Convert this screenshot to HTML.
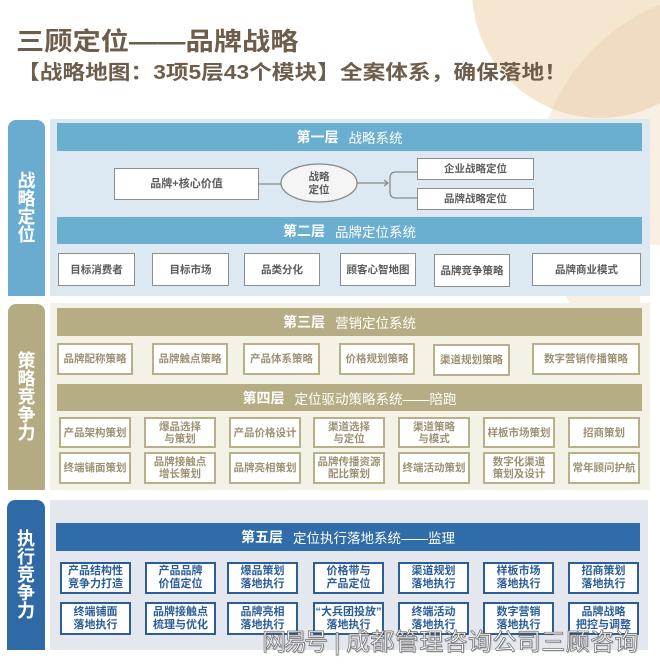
<!DOCTYPE html>
<html><head><meta charset="utf-8">
<style>
*{margin:0;padding:0;box-sizing:border-box}
body{width:660px;height:669px;overflow:hidden;background:#fff;position:relative;font-family:"Liberation Sans","Noto Sans CJK SC",sans-serif}
.a{position:absolute}
.lab{position:absolute;color:#fff;font-weight:bold;font-size:18px;line-height:18px;display:flex;align-items:center;justify-content:center;text-align:center;border-radius:8px 8px 0 0}
.hd{position:absolute;color:#fff;font-size:13.5px;display:flex;align-items:center;justify-content:center;white-space:nowrap}
.hd b{font-size:14px;margin-right:10px}
.bx{position:absolute;background:#fff;display:flex;align-items:center;justify-content:center;text-align:center;font-size:10.5px;line-height:12px;font-weight:bold;white-space:nowrap}
.g{border:1.5px solid #8d8d8d;color:#5c5c5c}
.k{border:2px solid #b9b08a;color:#9d9172}
.d{border:2px solid #2c5e95;color:#2a5d98;font-size:11px;line-height:13px}
.wm{position:absolute;color:#fff;font-size:24px;line-height:24px;white-space:nowrap;-webkit-text-stroke:0.7px #6a6a6a;text-shadow:1px 1px 1px rgba(0,0,0,.25)}
</style></head><body>

<svg class="a" style="left:0;top:0" width="660" height="669">
  <defs>
    <clipPath id="ca"><circle cx="600" cy="-10" r="128"/></clipPath>
  </defs>
  <circle cx="735" cy="190" r="200" fill="#f8eee2"/>
  <rect x="640" y="245" width="20" height="424" fill="#fff"/>
  <circle cx="600" cy="-10" r="128" fill="#f5e6d0"/>
  <circle cx="735" cy="190" r="200" fill="#f0dcc2" clip-path="url(#ca)"/>
</svg>

<div class="a" style="left:16px;top:30px;font-size:25px;line-height:25px;font-weight:bold;color:#6d5d4a;transform:scaleX(1.13);transform-origin:left top;white-space:nowrap">三顾定位——品牌战略</div>
<div class="a" style="left:17px;top:63px;font-size:20px;line-height:20px;font-weight:bold;color:#6d5d4a;transform:scaleX(1.135);transform-origin:left top;white-space:nowrap">【战略地图：3项5层43个模块】全案体系，确保落地！</div>

<!-- Section 1 -->
<div class="lab" style="left:8px;top:120px;width:37px;height:176px;background:#6aaccf">战<br>略<br>定<br>位</div>
<div class="a" style="left:50px;top:119px;width:600px;height:177px;background:#dce9f2"></div>
<div class="hd" style="left:57px;top:123px;width:585px;height:28px;background:#6aaed0"><b>第一层</b>战略系统</div>

<svg class="a" style="left:0;top:0" width="660" height="300">
  <line x1="259" y1="184" x2="281" y2="184" stroke="#8a8a8a" stroke-width="1.3"/>
  <ellipse cx="319" cy="183" rx="38" ry="19" fill="#f5f5f5" stroke="#8a8a8a" stroke-width="1.3"/>
  <line x1="357" y1="183" x2="388" y2="183" stroke="#8a8a8a" stroke-width="1.3"/>
  <polyline points="384,180 388,183 384,186" fill="none" stroke="#8a8a8a" stroke-width="1.2"/>
  <path d="M417,172 H396 Q390,172 390,178 V192 Q390,198 396,198 H417" fill="none" stroke="#8a8a8a" stroke-width="1.3"/>
  <text x="319" y="180" text-anchor="middle" font-size="10.5" font-weight="bold" fill="#5c5c5c" font-family="Liberation Sans, Noto Sans CJK SC, sans-serif">战略</text>
  <text x="319" y="193" text-anchor="middle" font-size="10.5" font-weight="bold" fill="#5c5c5c" font-family="Liberation Sans, Noto Sans CJK SC, sans-serif">定位</text>
</svg>

<div class="bx g" style="left:114px;top:168px;width:145px;height:32px;font-size:11px">品牌+核心价值</div>
<div class="bx g" style="left:417px;top:158px;width:117px;height:22px">企业战略定位</div>
<div class="bx g" style="left:417px;top:188px;width:117px;height:22px">品牌战略定位</div>

<div class="hd" style="left:57px;top:217px;width:585px;height:27px;background:#6aaed0"><b>第二层</b>品牌定位系统</div>
<div class="bx g" style="left:58px;top:253px;width:77px;height:33px">目标消费者</div>
<div class="bx g" style="left:152px;top:253px;width:77px;height:33px">目标市场</div>
<div class="bx g" style="left:244px;top:253px;width:76px;height:33px">品类分化</div>
<div class="bx g" style="left:340px;top:253px;width:76px;height:33px">顾客心智地图</div>
<div class="bx g" style="left:434px;top:254px;width:76px;height:33px">品牌竞争策略</div>
<div class="bx g" style="left:532px;top:253px;width:109px;height:33px">品牌商业模式</div>

<!-- Section 2 -->
<div class="lab" style="left:8px;top:304px;width:37px;height:186px;background:#b4ab82">策<br>略<br>竞<br>争<br>力</div>
<div class="a" style="left:50px;top:303px;width:600px;height:187px;background:#f4f2e6"></div>
<div class="hd" style="left:57px;top:308px;width:585px;height:28px;background:#b6ad84"><b>第三层</b>营销定位系统</div>
<div class="bx k" style="left:57px;top:343px;width:76px;height:32px">品牌配称策略</div>
<div class="bx k" style="left:152px;top:343px;width:76px;height:32px">品牌触点策略</div>
<div class="bx k" style="left:243px;top:343px;width:77px;height:32px">产品体系策略</div>
<div class="bx k" style="left:339px;top:343px;width:76px;height:32px">价格规划策略</div>
<div class="bx k" style="left:433px;top:344px;width:77px;height:32px">渠道规划策略</div>
<div class="bx k" style="left:532px;top:343px;width:108px;height:32px">数字营销传播策略</div>

<div class="hd" style="left:57px;top:384px;width:585px;height:27px;background:#b6ad84"><b>第四层</b>定位驱动策略系统——陪跑</div>
<div class="bx k" style="left:59px;top:417px;width:72px;height:31px">产品架构策划</div>
<div class="bx k" style="left:144px;top:417px;width:72px;height:31px">爆品选择<br>与策划</div>
<div class="bx k" style="left:229px;top:417px;width:72px;height:31px">产品价格设计</div>
<div class="bx k" style="left:313px;top:417px;width:72px;height:31px">渠道选择<br>与定位</div>
<div class="bx k" style="left:398px;top:417px;width:72px;height:31px">渠道策略<br>与模式</div>
<div class="bx k" style="left:483px;top:417px;width:72px;height:31px">样板市场策划</div>
<div class="bx k" style="left:568px;top:417px;width:72px;height:31px">招商策划</div>

<div class="bx k" style="left:59px;top:452px;width:72px;height:32px">终端铺面策划</div>
<div class="bx k" style="left:144px;top:452px;width:72px;height:32px">品牌接触点<br>增长策划</div>
<div class="bx k" style="left:229px;top:452px;width:72px;height:32px">品牌亮相策划</div>
<div class="bx k" style="left:313px;top:452px;width:72px;height:32px">品牌传播资源<br>配比策划</div>
<div class="bx k" style="left:398px;top:452px;width:72px;height:32px">终端活动策划</div>
<div class="bx k" style="left:483px;top:452px;width:72px;height:32px">数字化渠道<br>策划及设计</div>
<div class="bx k" style="left:568px;top:452px;width:72px;height:32px">常年顾问护航</div>

<!-- Section 3 -->
<div class="lab" style="left:7px;top:500px;width:38px;height:150px;background:#2f6aa6">执<br>行<br>竞<br>争<br>力</div>
<div class="a" style="left:50px;top:500px;width:598px;height:150px;background:#e5e7ef"></div>
<div class="hd" style="left:56px;top:523px;width:584px;height:28px;background:#2f6ca8"><b>第五层</b>定位执行落地系统——监理</div>

<div class="bx d" style="left:60px;top:562px;width:71px;height:32px">产品结构性<br>竞争力打造</div>
<div class="bx d" style="left:145px;top:562px;width:71px;height:32px">产品品牌<br>价值定位</div>
<div class="bx d" style="left:227px;top:562px;width:71px;height:32px">爆品策划<br>落地执行</div>
<div class="bx d" style="left:313px;top:562px;width:71px;height:32px">价格带与<br>产品定位</div>
<div class="bx d" style="left:398px;top:562px;width:71px;height:32px">渠道规划<br>落地执行</div>
<div class="bx d" style="left:483px;top:562px;width:71px;height:32px">样板市场<br>落地执行</div>
<div class="bx d" style="left:568px;top:562px;width:71px;height:32px">招商策划<br>落地执行</div>

<div class="bx d" style="left:60px;top:602px;width:71px;height:33px">终端铺面<br>落地执行</div>
<div class="bx d" style="left:145px;top:602px;width:71px;height:33px">品牌接触点<br>梳理与优化</div>
<div class="bx d" style="left:227px;top:602px;width:71px;height:33px">品牌亮相<br>落地执行</div>
<div class="bx d" style="left:313px;top:602px;width:71px;height:33px">“大兵团投放”<br>落地执行</div>
<div class="bx d" style="left:398px;top:602px;width:71px;height:33px">终端活动<br>落地执行</div>
<div class="bx d" style="left:483px;top:602px;width:71px;height:33px">数字营销<br>落地执行</div>
<div class="bx d" style="left:568px;top:602px;width:71px;height:33px">品牌战略<br>把控与调整</div>

<!-- watermark -->
<div class="wm" style="left:262px;top:631px;letter-spacing:-3px">网易号</div>
<div class="wm" style="left:334px;top:631px">|</div>
<div class="wm" style="left:346px;top:631px;letter-spacing:0.4px">成都管理咨询公司三顾咨询</div>

</body></html>
